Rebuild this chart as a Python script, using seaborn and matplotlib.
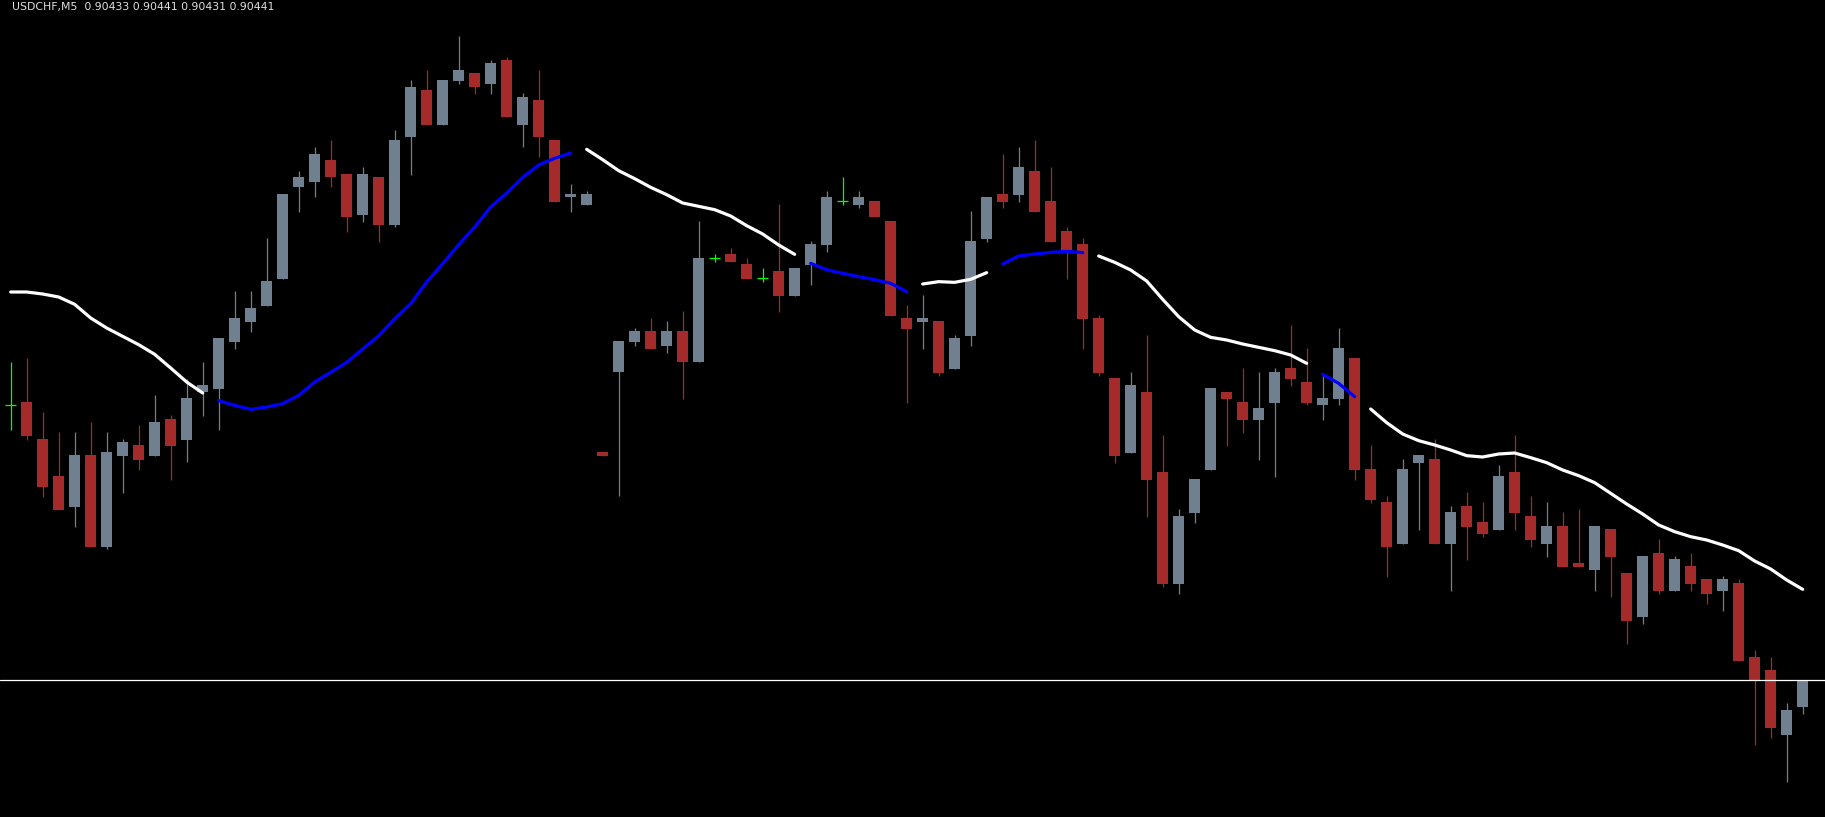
import numpy as np
import pandas as pd
import seaborn as sns
import matplotlib
matplotlib.use("Agg")
import matplotlib.pyplot as plt

# USDCHF M5 candles, prices in points above 0.90000
opens = [523.4, 524.4, 513.3, 502.2, 493.0, 508.5, 481.0, 508.3, 511.5, 508.3,
         519.3, 513.1, 527.3, 528.4, 542.5, 548.5, 553.3, 561.4, 588.8, 590.5,
         597.0, 592.8, 580.6, 591.9, 577.6, 603.8, 618.0, 607.5, 620.7, 623.1,
         619.8, 627.0, 607.6, 615.0, 603.0, 585.8, 583.6, 509.5, 533.3, 542.5,
         545.7, 541.3, 545.7, 536.3, 567.6, 568.8, 565.8, 561.5, 563.7, 556.3,
         565.6, 571.6, 584.6, 583.6, 584.6, 578.7, 549.5, 548.5, 548.7, 534.4,
         544.3, 573.4, 586.8, 586.6, 593.7, 584.7, 575.7, 571.8, 549.5, 531.6,
         509.2, 527.4, 503.4, 469.9, 491.2, 504.1, 527.4, 524.4, 519.1, 524.2,
         534.6, 530.4, 523.4, 525.4, 537.6, 504.3, 494.4, 481.9, 506.2, 507.3,
         481.9, 493.2, 488.4, 486.1, 503.4, 490.2, 481.9, 487.2, 476.1, 474.1,
         486.3, 473.1, 460.0, 479.1, 467.8, 475.2, 471.3, 467.8, 470.1, 447.9,
         444.1, 424.6, 432.8]
highs = [536.3, 537.6, 521.5, 515.4, 515.4, 518.3, 515.4, 513.3, 517.5, 526.5,
         520.5, 531.4, 536.3, 543.6, 557.7, 557.7, 573.6, 586.8, 593.7, 600.9,
         603.0, 592.8, 594.9, 591.9, 606.0, 621.0, 624.0, 621.0, 634.3, 623.1,
         627.0, 627.9, 617.1, 624.0, 603.0, 589.7, 587.7, 509.5, 542.7, 546.6,
         549.6, 548.7, 551.7, 578.7, 568.9, 570.6, 567.6, 564.6, 583.8, 564.6,
         572.7, 587.7, 591.9, 587.7, 584.6, 578.7, 553.5, 556.5, 548.7, 544.5,
         581.7, 585.9, 598.8, 600.9, 603.0, 594.9, 576.9, 573.6, 550.5, 531.6,
         533.4, 544.5, 514.5, 492.2, 501.3, 528.6, 527.4, 534.6, 533.4, 534.6,
         547.5, 540.6, 532.4, 546.5, 537.6, 511.5, 496.2, 507.3, 508.5, 513.3,
         493.2, 497.4, 494.4, 505.5, 514.5, 496.2, 494.4, 491.4, 492.3, 487.2,
         486.3, 473.1, 478.2, 483.4, 478.2, 479.1, 471.3, 472.2, 471.3, 450.1,
         447.9, 434.1, 441.0]
lows = [516.1, 513.0, 495.9, 492.1, 487.0, 481.0, 480.2, 497.1, 504.1, 508.3,
        501.1, 506.3, 520.3, 516.1, 540.3, 545.4, 553.3, 561.4, 581.5, 585.8,
        588.8, 575.4, 578.5, 572.5, 576.8, 592.6, 607.5, 607.5, 619.8, 616.8,
        616.8, 609.8, 600.8, 597.8, 584.5, 581.5, 583.6, 508.2, 496.1, 541.3,
        540.4, 539.1, 525.4, 536.3, 566.4, 566.5, 561.4, 560.4, 551.5, 556.3,
        559.6, 569.5, 583.6, 582.6, 579.8, 550.3, 524.2, 540.4, 532.2, 534.4,
        541.3, 572.5, 582.7, 584.5, 581.5, 572.5, 561.3, 540.4, 532.2, 506.2,
        509.2, 490.0, 469.0, 466.9, 488.2, 504.1, 511.3, 515.2, 507.1, 502.0,
        529.3, 523.4, 519.1, 523.4, 501.0, 494.2, 472.0, 481.9, 486.0, 481.9,
        467.8, 477.1, 484.0, 486.1, 486.1, 481.0, 478.0, 475.0, 475.0, 467.8,
        466.0, 451.9, 457.9, 466.9, 467.8, 467.8, 463.9, 461.8, 446.8, 421.6,
        423.7, 410.5, 430.7]
closes = [523.4, 514.3, 499.0, 492.1, 508.5, 481.0, 509.4, 512.4, 507.1, 518.4,
          511.3, 525.6, 529.5, 543.6, 549.6, 552.6, 560.7, 586.8, 591.9, 598.8,
          591.8, 579.9, 592.8, 577.6, 603.0, 618.9, 607.5, 621.0, 624.0, 618.8,
          626.1, 609.8, 615.9, 603.8, 584.5, 586.8, 586.8, 508.2, 542.7, 545.7,
          540.4, 545.7, 536.3, 567.6, 567.6, 566.5, 561.4, 561.5, 556.3, 564.6,
          571.8, 585.9, 584.6, 585.9, 579.8, 550.3, 546.4, 549.5, 533.2, 543.6,
          572.7, 585.9, 584.5, 594.9, 581.5, 572.5, 570.1, 549.3, 533.2, 508.3,
          529.5, 501.1, 469.9, 490.2, 501.3, 528.6, 525.4, 519.1, 522.6, 533.4,
          531.4, 524.2, 525.6, 540.6, 504.1, 495.1, 481.0, 504.3, 508.5, 481.9,
          491.4, 487.0, 484.9, 502.2, 491.2, 483.1, 487.2, 475.0, 475.0, 487.2,
          478.0, 458.8, 478.2, 467.8, 477.3, 469.9, 466.9, 471.3, 446.8, 440.8,
          426.7, 432.0, 441.0]

# moving average, same units
ma = [557.4, 557.4, 556.8, 555.9, 553.7, 549.6, 546.6, 544.1, 541.6, 538.7,
      534.6, 530.4, 527.1, 524.8, 523.4, 522.2, 522.9, 523.9, 526.4, 530.4,
      533.3, 536.3, 540.3, 544.3, 549.4, 553.9, 560.4, 565.9, 571.6, 576.9,
      582.9, 587.1, 591.8, 595.5, 597.5, 599.1, 600.2, 597.1, 593.8, 591.4,
      588.8, 586.6, 584.1, 583.1, 582.1, 580.2, 577.3, 574.8, 571.5, 568.7,
      566.0, 564.1, 563.0, 562.0, 561.1, 560.0, 557.5, 559.8, 560.5, 560.3,
      561.2, 563.2, 565.8, 568.2, 568.8, 569.3, 569.6, 569.2, 568.2, 566.3,
      564.0, 560.7, 555.2, 550.0, 546.0, 543.8, 543.0, 541.8, 540.8, 539.8,
      538.5, 536.0, 532.7, 530.0, 526.0, 522.3, 518.2, 514.8, 512.8, 511.5,
      510.0, 508.3, 507.9, 508.8, 509.1, 507.7, 506.2, 504.0, 502.3, 500.2,
      497.0, 493.8, 490.8, 487.5, 485.5, 484.0, 483.0, 481.5, 479.8, 476.7,
      474.3, 471.0, 468.2]
# colour runs of the MA: (colour, first bar, last bar)
ma_runs = [("white", 0, 12), ("blue", 13, 35), ("white", 36, 49),
           ("blue", 50, 56), ("white", 57, 61), ("blue", 62, 67),
           ("white", 68, 81), ("blue", 82, 84), ("white", 85, 112)]

title = "USDCHF,M5  0.90433 0.90441 0.90431 0.90441"

to_price = lambda v: 0.9 + np.asarray(v) / 1e5
df = pd.DataFrame({"o": to_price(opens), "h": to_price(highs),
                   "l": to_price(lows), "c": to_price(closes)})
df["idx"] = np.arange(len(df))

UP, DOWN, DOJI = "#708090", "#a52a2a", "#00ff00"
df["col"] = np.where(df.c > df.o, UP, np.where(df.c < df.o, DOWN, DOJI))

sns.set_style("dark", {"axes.facecolor": "black", "figure.facecolor": "black"})
fig = plt.figure(figsize=(18.25, 8.17), dpi=100)
ax = fig.add_axes([0, 0, 1, 1])
ax.set_facecolor("black")

# wicks
ax.vlines(df.idx, df.l, df.h, colors=df.col, linewidth=0.9, zorder=2)
# bodies
body = df[df.col != DOJI]
ax.bar(body.idx, (body.c - body.o).abs(), bottom=np.minimum(body.o, body.c),
       width=0.69, color=body.col, linewidth=0, zorder=3)
doji = df[df.col == DOJI]
ax.hlines(doji.o, doji.idx - 0.345, doji.idx + 0.345, colors=DOJI,
          linewidth=0.9, zorder=3)

# moving average segments
rows = []
for k, (colour, a, b) in enumerate(ma_runs):
    for i in range(a, b + 1):
        rows.append({"idx": i, "ma": to_price(ma[i]), "seg": k, "colour": colour})
ma_df = pd.DataFrame(rows)
sns.lineplot(data=ma_df, x="idx", y="ma", hue="colour", units="seg",
             estimator=None, palette={"white": "#ffffff", "blue": "#0000ff"},
             linewidth=2.3, legend=False, ax=ax, zorder=4)

# current price line
ax.axhline(df.c.iloc[-1], color="white", linewidth=0.9, zorder=5)

ax.set_xlim(-0.667, -0.667 + 1825 / 16)
ax.set_ylim(to_price(399.9), to_price(645.0))
ax.axis("off")

fig.text(12 / 1825, 1 - 2 / 817, title, color="#e0e0e0", fontsize=7.8,
         ha="left", va="top", family="DejaVu Sans")

fig.savefig("out.png", dpi=100, facecolor="black")
